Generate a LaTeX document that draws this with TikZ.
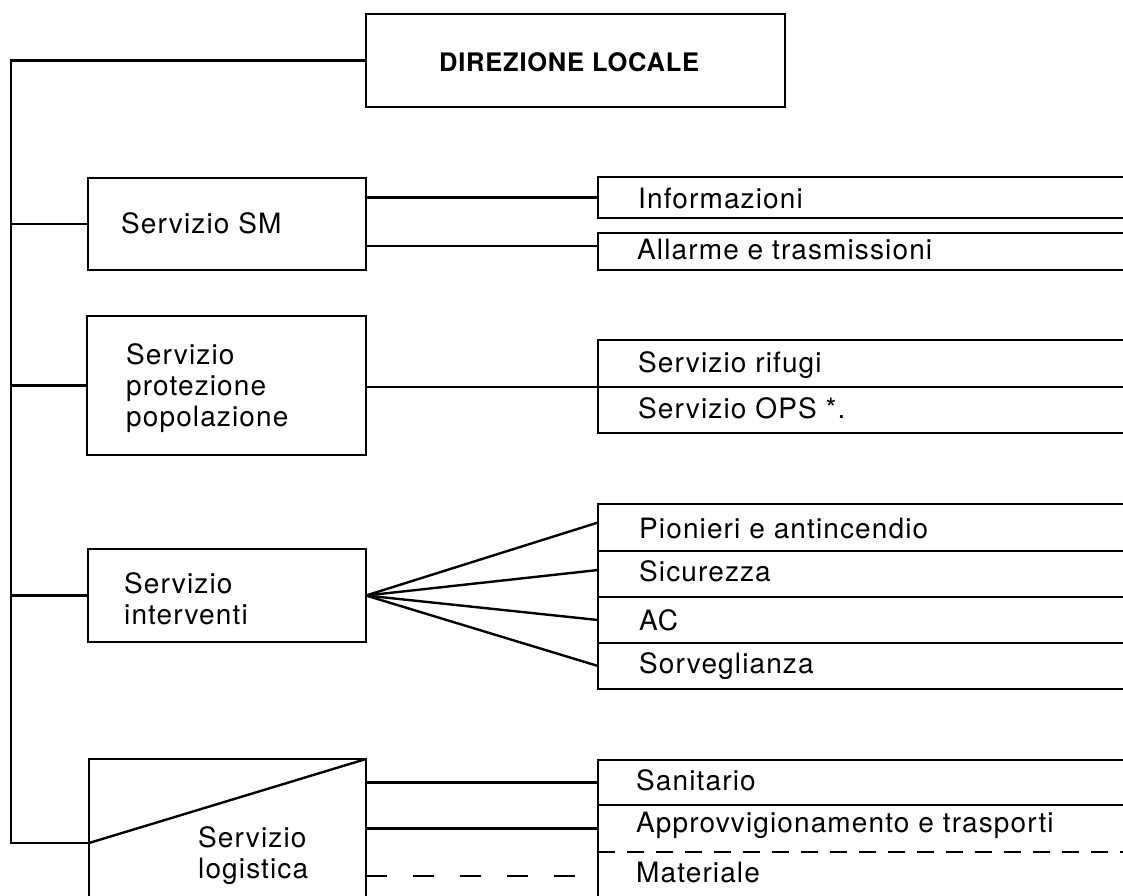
\documentclass[tikz,border=0pt]{standalone}
\usepackage{fontspec}
\setmainfont{TeX Gyre Heros}[LetterSpace=4]
\usetikzlibrary{calc}
\newcommand\opensides[1]{\draw (#1.north east) -- (#1.north west) -- (#1.south west) -- (#1.south east);}
\begin{document}
\begin{tikzpicture}[x=1pt,y=-1pt, line width=2.4pt,
  box/.style={draw, rectangle, inner sep=0pt, outer sep=0pt, anchor=north west},
  openbox/.style={rectangle, inner sep=0pt, outer sep=0pt, anchor=north west, minimum width=530pt},
  lbl/.style={inner sep=0pt, anchor=base west, font=\fontsize{28}{31}\selectfont, align=left},
  dashA/.style={dash pattern=on 17pt off 12pt},
  dashB/.style={dash pattern=on 21pt off 26pt}]
\useasboundingbox (0,0) rectangle (1123,895);

% left boxes
\node[box, minimum width=419pt, minimum height=93pt] (dir) at (366,14) {};
\node[inner sep=0pt, anchor=base west, font=\fontsize{25.5}{30}\bfseries\addfontfeature{LetterSpace=3}] (tdir) at (438,71) {DIREZIONE LOCALE};
\node[box, minimum width=278pt, minimum height=92pt] (sm) at (88,178) {};
\node[box, minimum width=279pt, minimum height=139pt] (prot) at (87,316) {};
\node[box, minimum width=278pt, minimum height=93pt] (int) at (88,549) {};
\node[openbox, minimum width=277pt, minimum height=150pt] (log) at (89,759) {};
\draw (log.south west) -- (log.north west) -- (log.north east) -- (log.south east);
\coordinate (logd) at (89,843);
\draw (logd) -- (log.north east);

% bus
\coordinate (bus) at (11,0);
\draw (dir.west) -| (bus |- logd) -- (logd);
\draw (bus |- sm.west) -- (sm.west);
\draw (bus |- prot.west) -- (prot.west);
\draw (bus |- int.west) -- (int.west);

% right boxes
\node[openbox, minimum height=41pt] (info) at (598,177) {};
\node[openbox, minimum height=37pt] (allarme) at (598,233) {};
\node[openbox, minimum height=47pt] (rifugi) at (598,340) {};
\node[openbox, minimum height=46pt] (ops) at (598,387) {};
\node[openbox, minimum height=47pt] (pion) at (598,504) {};
\node[openbox, minimum height=46pt] (sic) at (598,551) {};
\node[openbox, minimum height=46pt] (ac) at (598,597) {};
\node[openbox, minimum height=46pt] (sorv) at (598,643) {};
\node[openbox, minimum height=45pt] (san) at (598,760) {};
\node[openbox, minimum height=47pt] (appr) at (598,805) {};
\node[openbox, minimum height=48pt] (mat) at (598,852) {};
\opensides{info}
\opensides{allarme}
\opensides{rifugi}
\opensides{ops}
\opensides{pion}
\opensides{sic}
\opensides{ac}
\opensides{sorv}
\opensides{san}
\draw (appr.north east) -- (appr.north west) -- (appr.south west);
\draw[dashA] (appr.south west) -- (appr.south east);
\draw (mat.north west) -- (mat.south west);

% connectors
\coordinate (aIn) at ([yshift=5.5pt]allarme.west);
\draw (sm.east |- info.west) -- (info.west);
\draw (sm.east |- aIn) -- (aIn);
\draw (prot.east |- rifugi.south west) -- (rifugi.south west);
\draw (int.east) -- ([yshift=5pt]pion.west);
\draw (int.east) -- ([yshift=4pt]sic.west);
\draw (int.east) -- (ac.west);
\draw (int.east) -- (sorv.west);
\draw (log.east |- san.west) -- (san.west);
\draw (log.east |- appr.west) -- (appr.west);
\draw[dashB] (log.east |- mat.west) -- (mat.west);

% labels (base anchor = baseline of last line)
\node[lbl] (tsm) at (120,233) {Servizio SM};
\node[lbl] (tprot) at (125,426) {Servizio\\protezione\\popolazione};
\node[lbl] (tint) at (123,624) {Servizio\\interventi};
\node[lbl] (tlog) at (197,878) {Servizio\\logistica};
\node[lbl] (tinfo) at (637,208) {Informazioni};
\node[lbl] (tall) at (636,259) {Allarme e trasmissioni};
\node[lbl] (trif) at (637,372) {Servizio rifugi};
\node[lbl] (tops) at (637,418) {Servizio OPS *.};
\node[lbl] (tpion) at (638,538) {Pionieri e antincendio};
\node[lbl] (tsic) at (638,581) {Sicurezza};
\node[lbl] (tac) at (638,630) {AC};
\node[lbl] (tsorv) at (638,673) {Sorveglianza};
\node[lbl] (tsan) at (635,790) {Sanitario};
\node[lbl] (tappr) at (635,832) {Approvvigionamento e trasporti};
\node[lbl] (tmat) at (635,882) {Materiale};
\end{tikzpicture}
\end{document}
